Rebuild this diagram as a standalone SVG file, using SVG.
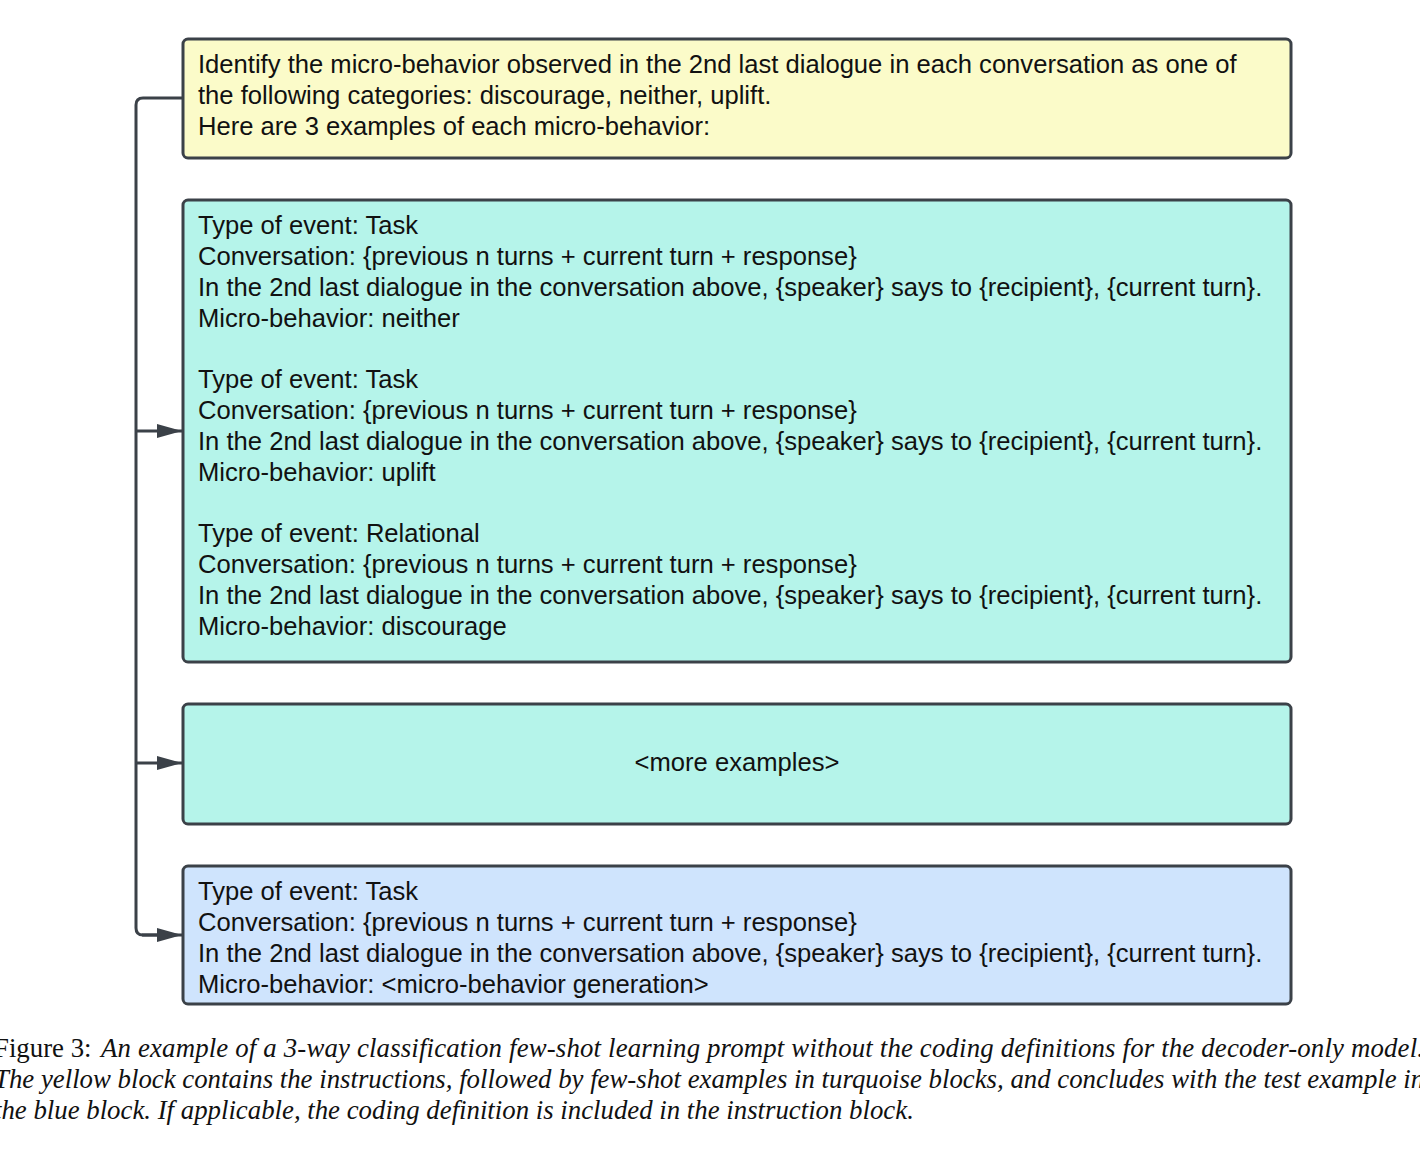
<svg xmlns="http://www.w3.org/2000/svg" width="1420" height="1155" viewBox="0 0 1420 1155">
<style>
.box{stroke:#3b4148;stroke-width:3}
.t{font-family:"Liberation Sans",Arial,sans-serif;font-size:25.6px;fill:#111}
.cap{font-family:"Liberation Serif","Times New Roman",serif;font-size:26.8px;fill:#111}
.conn{fill:none;stroke:#3b4148;stroke-width:3}
</style>
<defs>
<marker id="arr" viewBox="0 0 25 16" refX="25" refY="8" markerWidth="25" markerHeight="16" markerUnits="userSpaceOnUse" orient="auto">
<path d="M0,1 L25,8 L0,15 Z" fill="#3b4148"/>
</marker>
</defs>
<rect width="1420" height="1155" fill="#fff"/>
<g id="connectors">
<path class="conn" d="M183,98 H143 Q136,98 136,105 V928 Q136,935 143,935 H160"/>
<path class="conn" d="M136,431 H182" marker-end="url(#arr)"/>
<path class="conn" d="M136,763 H182" marker-end="url(#arr)"/>
<path class="conn" d="M142,935 H182" marker-end="url(#arr)"/>
</g>
<g id="instructions">
<rect class="box" x="183" y="39" width="1108" height="119" rx="5" fill="#fbfbc9"/>
<text class="t" x="198" y="73">Identify the micro-behavior observed in the 2nd last dialogue in each conversation as one of</text>
<text class="t" x="198" y="104">the following categories: discourage, neither, uplift.</text>
<text class="t" x="198" y="135">Here are 3 examples of each micro-behavior:</text>
</g>
<g id="examples">
<rect class="box" x="183" y="200" width="1108" height="462" rx="5" fill="#b5f4ea"/>
<text class="t" x="198" y="234">Type of event: Task</text>
<text class="t" x="198" y="265">Conversation: {previous n turns + current turn + response}</text>
<text class="t" x="198" y="296">In the 2nd last dialogue in the conversation above, {speaker} says to {recipient}, {current turn}.</text>
<text class="t" x="198" y="327">Micro-behavior: neither</text>
<text class="t" x="198" y="388">Type of event: Task</text>
<text class="t" x="198" y="419">Conversation: {previous n turns + current turn + response}</text>
<text class="t" x="198" y="450">In the 2nd last dialogue in the conversation above, {speaker} says to {recipient}, {current turn}.</text>
<text class="t" x="198" y="481">Micro-behavior: uplift</text>
<text class="t" x="198" y="542">Type of event: Relational</text>
<text class="t" x="198" y="573">Conversation: {previous n turns + current turn + response}</text>
<text class="t" x="198" y="604">In the 2nd last dialogue in the conversation above, {speaker} says to {recipient}, {current turn}.</text>
<text class="t" x="198" y="635">Micro-behavior: discourage</text>
</g>
<g id="more-examples">
<rect class="box" x="183" y="704" width="1108" height="120" rx="5" fill="#b5f4ea"/>
<text class="t" x="737" y="771" text-anchor="middle">&lt;more examples&gt;</text>
</g>
<g id="test-example">
<rect class="box" x="183" y="866" width="1108" height="138" rx="5" fill="#cfe4fd"/>
<text class="t" x="198" y="900">Type of event: Task</text>
<text class="t" x="198" y="931">Conversation: {previous n turns + current turn + response}</text>
<text class="t" x="198" y="962">In the 2nd last dialogue in the conversation above, {speaker} says to {recipient}, {current turn}.</text>
<text class="t" x="198" y="993">Micro-behavior: &lt;micro-behavior generation&gt;</text>
</g>
<g id="caption">
<text class="cap" x="-6" y="1057">Figure 3: <tspan x="101" font-style="italic" textLength="1323" lengthAdjust="spacing">An example of a 3-way classification few-shot learning prompt without the coding definitions for the decoder-only model.</tspan></text>
<text class="cap" x="-6" y="1088" font-style="italic">The yellow block contains the instructions, followed by few-shot examples in turquoise blocks, and concludes with the test example in</text>
<text class="cap" x="-6" y="1119" font-style="italic">the blue block. If applicable, the coding definition is included in the instruction block.</text>
</g>
</svg>
